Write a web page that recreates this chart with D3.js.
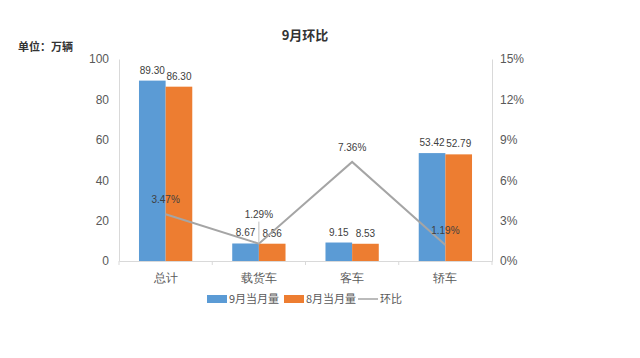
<!DOCTYPE html>
<html><head><meta charset="utf-8">
<script src="https://cdn.jsdelivr.net/npm/d3@7"></script>
<style>body{margin:0;background:#fff;}svg{display:block;font-family:"Noto Sans CJK SC","Microsoft YaHei",sans-serif;}</style>
</head><body>
<svg id="c" width="640" height="358"></svg>
<script>
const categories = ["总计", "载货车", "客车", "轿车"];
const sep = [89.30, 8.67, 9.15, 53.42];
const aug = [86.30, 8.56, 8.53, 52.79];
const mom = [3.47, 1.29, 7.36, 1.19];
const leftTicks = [0, 20, 40, 60, 80, 100];
const rightTicks = [0, 3, 6, 9, 12, 15];
const seriesNames = ["9月当月量", "8月当月量", "环比"];
const colors = ["#5B9BD5", "#ED7D31", "#A5A5A5"];

const svg = d3.select("#c");
const L = 119, R = 492, T = 59, B = 261;
const x = d3.scaleBand().domain(categories).range([L, R]);
const xs = d3.scaleBand().domain([0, 1]).range([0, x.bandwidth()]).paddingOuter(0.75).paddingInner(0);
const y = d3.scaleLinear().domain([0, 100]).range([B, T]);
const y2 = d3.scaleLinear().domain([0, 15]).range([B, T]);

// title
svg.append("text").attr("x", 305).attr("y", 40).attr("text-anchor", "middle")
  .attr("font-size", 13).attr("font-weight", "bold").attr("fill", "#333").text("9月环比");
svg.append("text").attr("x", 18).attr("y", 51)
  .attr("font-size", 11).attr("font-weight", "bold").attr("fill", "#333").text("单位：万辆");

// left axis
const ya = svg.append("g").attr("transform", `translate(${L},0)`)
  .call(d3.axisLeft(y).tickValues(leftTicks).tickSize(0).tickPadding(10));
ya.select(".domain").attr("stroke", "#d9d9d9");
ya.selectAll("text").attr("font-size", 12).attr("fill", "#595959").attr("font-family", "Liberation Sans, Arial, sans-serif");

// right axis
const yb = svg.append("g").attr("transform", `translate(${R},0)`)
  .call(d3.axisRight(y2).tickValues(rightTicks).tickFormat(d => d + "%").tickSize(0).tickPadding(8));
yb.select(".domain").attr("stroke", "#d9d9d9");
yb.selectAll("text").attr("font-size", 12).attr("fill", "#595959").attr("font-family", "Liberation Sans, Arial, sans-serif");

// x axis
const xa = svg.append("g").attr("transform", `translate(0,${B})`)
  .call(d3.axisBottom(x).tickSize(0).tickPadding(12));
xa.select(".domain").attr("stroke", "#d9d9d9");
xa.selectAll("text").attr("font-size", 12).attr("fill", "#595959");
// boundary ticks
const bounds = categories.map(c => x(c)).concat([x(categories[categories.length-1]) + x.bandwidth()]);
svg.append("g").selectAll("line").data(bounds).join("line")
  .attr("x1", d => d).attr("x2", d => d).attr("y1", B).attr("y2", B + 4).attr("stroke", "#d9d9d9");

// bars
[sep, aug].forEach((vals, si) => {
  const g = svg.append("g");
  g.selectAll("rect").data(vals).join("rect")
    .attr("x", (d, i) => x(categories[i]) + xs(si))
    .attr("y", d => y(d))
    .attr("width", xs.bandwidth())
    .attr("height", d => B - y(d))
    .attr("fill", colors[si]);
  g.selectAll("text").data(vals).join("text")
    .attr("x", (d, i) => x(categories[i]) + xs(si) + xs.bandwidth() / 2)
    .attr("y", d => y(d) - 7)
    .attr("text-anchor", "middle").attr("font-size", 10).attr("fill", "#404040")
    .attr("font-family", "Liberation Sans, Arial, sans-serif")
    .text(d => d.toFixed(2));
});

// line
const cx = i => x(categories[i]) + x.bandwidth() / 2;
svg.append("path").datum(mom)
  .attr("d", d3.line().x((d, i) => cx(i)).y(d => y2(d)))
  .attr("fill", "none").attr("stroke", colors[2]).attr("stroke-width", 2);
// leader line for 载货车 label
svg.append("line").attr("x1", cx(1)).attr("x2", cx(1)).attr("y1", y2(mom[1]) - 22).attr("y2", y2(mom[1]))
  .attr("stroke", "#bfbfbf").attr("stroke-width", 1);
const lblOff = [-11, -26, -11, -11];
svg.append("g").selectAll("text").data(mom).join("text")
  .attr("x", (d, i) => cx(i))
  .attr("y", (d, i) => y2(d) + lblOff[i])
  .attr("text-anchor", "middle").attr("font-size", 10).attr("fill", "#404040")
  .attr("font-family", "Liberation Sans, Arial, sans-serif")
  .text(d => d.toFixed(2) + "%");

// legend
const lg = svg.append("g").attr("transform", "translate(0,299)");
const legX = [207, 284, 358];
seriesNames.forEach((n, i) => {
  if (i < 2) {
    lg.append("rect").attr("x", legX[i]).attr("y", -4).attr("width", 20).attr("height", 8).attr("fill", colors[i]);
  } else {
    lg.append("line").attr("x1", legX[i]).attr("x2", legX[i] + 20).attr("y1", 0).attr("y2", 0)
      .attr("stroke", colors[i]).attr("stroke-width", 1.5);
  }
  lg.append("text").attr("x", legX[i] + 22).attr("y", 4).attr("font-size", 11).attr("fill", "#595959").text(n);
});
</script>
</body></html>
